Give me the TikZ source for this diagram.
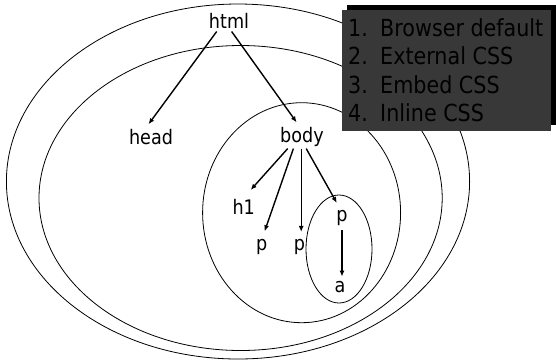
\documentclass[tikz,border=0pt]{standalone}
\usepackage{fontspec}
\setmainfont[FakeStretch=0.88]{DejaVu Sans}
\usetikzlibrary{arrows.meta}
\definecolor{boxgray}{RGB}{56,56,56}
\begin{document}
\begin{tikzpicture}[x=1pt,y=-1pt,
  lbl/.style={font=\fontsize{20}{23}\selectfont, inner sep=2pt},
  item/.style={font=\fontsize{23.5}{28}\selectfont, inner sep=0pt, anchor=base west},
  ring/.style={draw=black, line width=0.8pt},
  arr/.style={draw=black, line width=1.4pt, -{Latex[length=6pt,width=5pt]}}]
\useasboundingbox (0,0) rectangle (556,360);
% nested ellipses
\draw[ring] (238,181.5) ellipse [x radius=231.6pt, y radius=177.5pt];
\draw[ring] (240.6,198) ellipse [x radius=201.6pt, y radius=152.5pt];
\draw[ring] (301.6,212.7) ellipse [x radius=99pt, y radius=110pt];
\draw[ring] (339,249) ellipse [x radius=33pt, y radius=54pt];
% tree nodes
\node[lbl] (html) at (229,20.7) {html};
\node[lbl] (head) at (151,136.7) {head};
\node[lbl] (body) at (302,136.7) {body};
\node[lbl] (h1) at (243.7,206.7) {h1};
\node[lbl] (pa) at (261.8,246.7) {p};
\node[lbl] (pb) at (299.5,246.7) {p};
\node[lbl] (pc) at (342,218) {p};
\node[lbl] (a) at (340,287) {a};
% connectors
\draw[arr] ([xshift=-12.3pt,yshift=-1pt]html.south) -- ([xshift=-2.5pt,yshift=2.5pt]head.north);
\draw[arr] ([xshift=2.6pt,yshift=-1pt]html.south) -- ([xshift=-5.4pt,yshift=2.5pt]body.north);
\draw[arr] ([xshift=-14.3pt]body.south) -- ([xshift=7pt,yshift=7pt]h1.north);
\draw[arr] ([xshift=-8.6pt]body.south) -- ([xshift=2.8pt,yshift=5.5pt]pa.north);
\draw[arr] ([xshift=-0.8pt]body.south) -- ([xshift=1.7pt,yshift=4.9pt]pb.north);
\draw[arr] ([xshift=4.2pt]body.south) -- ([xshift=-5.2pt,yshift=5.2pt]pc.north);
\draw[arr] ([yshift=-2.5pt]pc.south) -- ([xshift=2pt,yshift=2.5pt]a.north);
% legend box with shadow
\fill[black] (347.4,5) rectangle (556,125);
\fill[boxgray] (342,10) rectangle (550.6,130.7);
\node[item] (n1) at (348,36.3) {1.};
\node[item] (t1) at (380,36.3) {Browser default};
\node[item] (n2) at (348,64.8) {2.};
\node[item] (t2) at (380,64.8) {External CSS};
\node[item] (n3) at (348,93.3) {3.};
\node[item] (t3) at (380,93.3) {Embed CSS};
\node[item] (n4) at (348,121.8) {4.};
\node[item] (t4) at (380,121.8) {Inline CSS};
\end{tikzpicture}
\end{document}
